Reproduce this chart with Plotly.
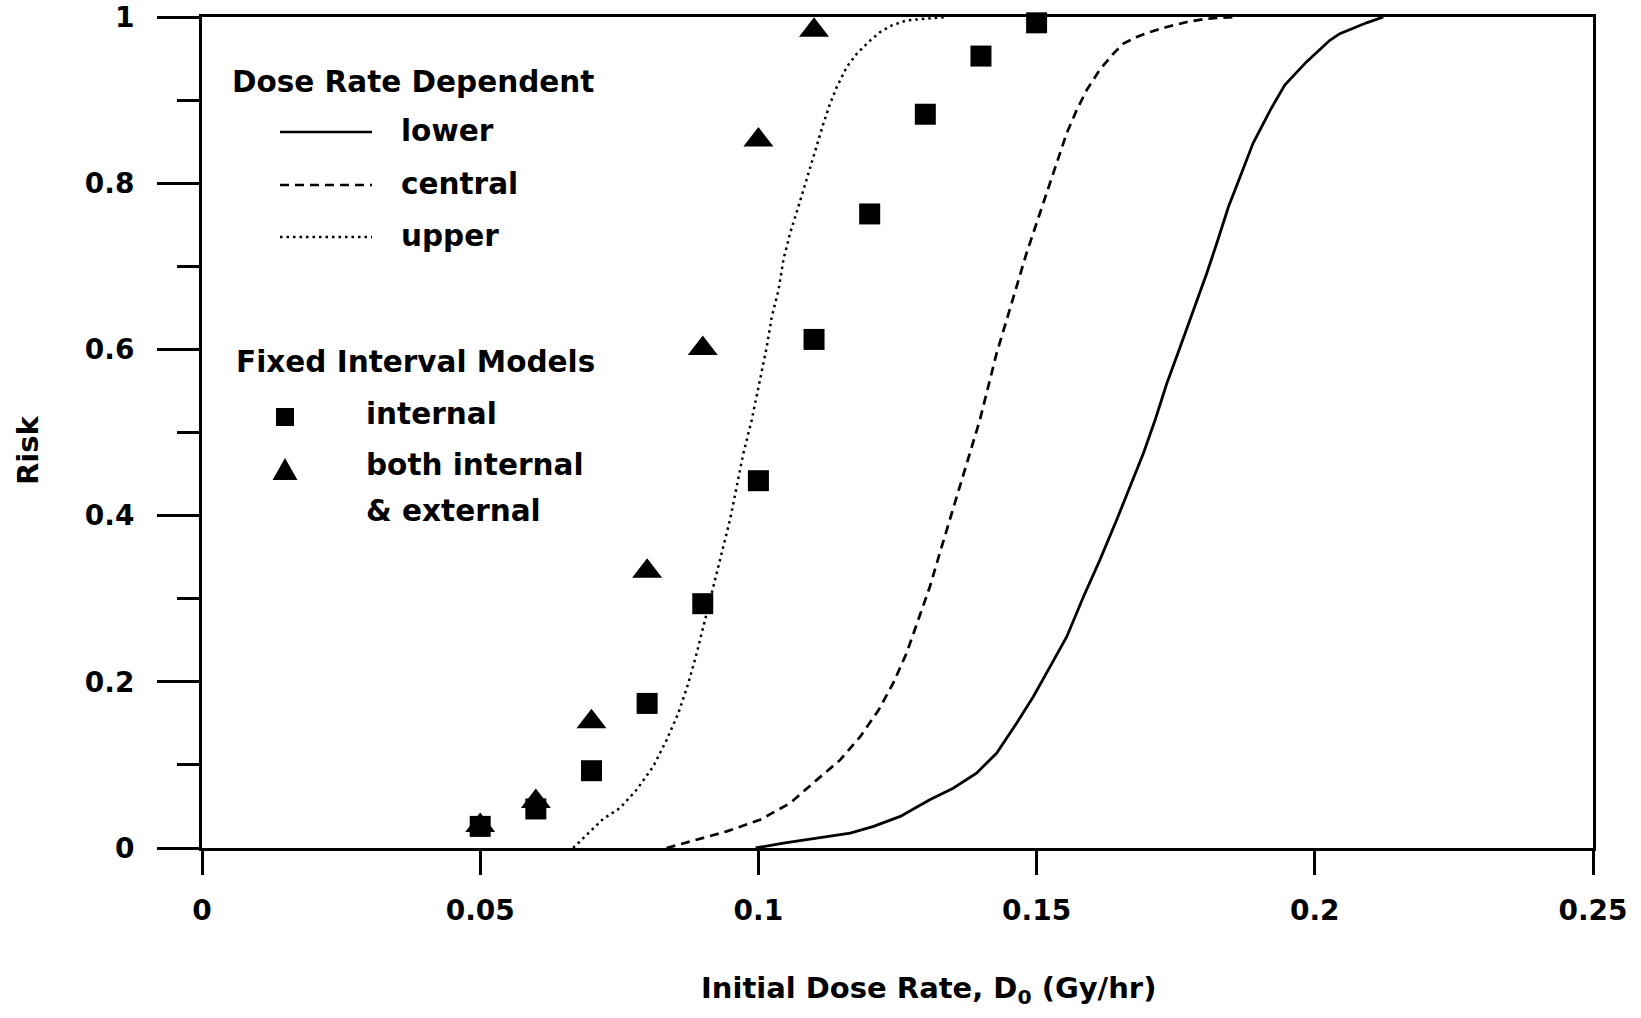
import plotly.graph_objects as go

# ---------------- data ----------------
upper_x = [0.0667, 0.0721, 0.0751, 0.0781, 0.0811, 0.0835, 0.0856, 0.0874, 0.0889, 0.0904,
           0.0919, 0.0934, 0.0949, 0.0961, 0.0973, 0.0988, 0.0997, 0.1006, 0.1015, 0.1024,
           0.1036, 0.1045, 0.1057, 0.1072, 0.1081, 0.1093, 0.1105, 0.1117, 0.1129, 0.1141,
           0.1159, 0.1177, 0.1198, 0.1219, 0.1240, 0.1267, 0.1302, 0.1338]
upper_y = [0.0, 0.035, 0.048, 0.070, 0.098, 0.130, 0.162, 0.198, 0.234, 0.274,
           0.314, 0.355, 0.395, 0.435, 0.475, 0.515, 0.543, 0.571, 0.603, 0.639,
           0.671, 0.708, 0.740, 0.772, 0.792, 0.820, 0.844, 0.872, 0.896, 0.916,
           0.940, 0.956, 0.970, 0.982, 0.990, 0.996, 0.998, 1.0]

central_x = [0.0835, 0.0889, 0.0943, 0.1003, 0.1057, 0.1105, 0.1147, 0.1183, 0.1216, 0.1242,
             0.1266, 0.1287, 0.1308, 0.1326, 0.1344, 0.1362, 0.1380, 0.1398, 0.1413, 0.1428,
             0.1446, 0.1464, 0.1482, 0.1500, 0.1518, 0.1536, 0.1554, 0.1572, 0.1590, 0.1614,
             0.1638, 0.1656, 0.1680, 0.1704, 0.1734, 0.1770, 0.1806, 0.1854]
central_y = [0.0, 0.010, 0.020, 0.034, 0.054, 0.082, 0.106, 0.134, 0.166, 0.198,
             0.234, 0.274, 0.314, 0.355, 0.395, 0.435, 0.475, 0.515, 0.555, 0.595,
             0.635, 0.675, 0.716, 0.752, 0.788, 0.824, 0.860, 0.888, 0.912, 0.937,
             0.956, 0.968, 0.976, 0.982, 0.988, 0.994, 0.998, 1.0]

lower_x = [0.0995, 0.1045, 0.1105, 0.1165, 0.1207, 0.1255, 0.1308, 0.1350, 0.1392, 0.1428,
           0.1464, 0.1494, 0.1524, 0.1554, 0.1584, 0.1614, 0.1644, 0.1668, 0.1692, 0.1713,
           0.1734, 0.1758, 0.1782, 0.1806, 0.1824, 0.1845, 0.1866, 0.1889, 0.1920, 0.1946,
           0.1985, 0.2027, 0.2045, 0.2093, 0.2123]
lower_y = [0.0, 0.006, 0.012, 0.018, 0.026, 0.038, 0.058, 0.072, 0.090, 0.114,
           0.150, 0.182, 0.218, 0.254, 0.302, 0.347, 0.395, 0.435, 0.475, 0.515,
           0.559, 0.603, 0.647, 0.692, 0.728, 0.772, 0.808, 0.848, 0.888, 0.918,
           0.946, 0.972, 0.980, 0.993, 1.0]

internal_x = [0.05, 0.06, 0.07, 0.08, 0.09, 0.10, 0.11, 0.12, 0.13, 0.14, 0.15]
internal_y = [0.026, 0.047, 0.093, 0.174, 0.294, 0.442, 0.612, 0.763, 0.883, 0.953, 0.993]

both_x = [0.05, 0.06, 0.07, 0.08, 0.09, 0.10, 0.11]
both_y = [0.027, 0.056, 0.152, 0.333, 0.601, 0.852, 0.984]

x_tickvals = [0, 0.05, 0.1, 0.15, 0.2, 0.25]
x_ticktext = ["0", "0.05", "0.1", "0.15", "0.2", "0.25"]
y_tickvals = [0, 0.2, 0.4, 0.6, 0.8, 1.0]
y_ticktext = ["0", "0.2", "0.4", "0.6", "0.8", "1"]
y_minor_vals = [0.1, 0.3, 0.5, 0.7, 0.9]

legend_heads = ["Dose Rate Dependent", "Fixed Interval Models"]
line_labels = ["lower", "central", "upper"]
marker_labels = ["internal", "both internal", "& external"]

# ---------------- layout geometry ----------------
W, H = 1641, 1018
L, R, T, B = 202, 1593, 17, 848
FONT = "DejaVu Sans, Verdana, sans-serif"
INK = "#000000"


def px(xp):
    return (xp - L) / (R - L)


def py(yp):
    return (B - yp) / (B - T)


fig = go.Figure()

fig.add_trace(go.Scatter(x=upper_x, y=upper_y, mode="lines", name="upper",
                         line=dict(color=INK, width=2.5, dash="2.5px,4px"),
                         showlegend=False))
fig.add_trace(go.Scatter(x=central_x, y=central_y, mode="lines", name="central",
                         line=dict(color=INK, width=2.7, dash="9px,6px"),
                         showlegend=False))
fig.add_trace(go.Scatter(x=lower_x, y=lower_y, mode="lines", name="lower",
                         line=dict(color=INK, width=2.8), showlegend=False))
fig.add_trace(go.Scatter(x=both_x, y=both_y, mode="markers", name="both internal & external",
                         marker=dict(symbol="triangle-up", size=26, color=INK),
                         cliponaxis=False, showlegend=False))
fig.add_trace(go.Scatter(x=internal_x, y=internal_y, mode="markers", name="internal",
                         marker=dict(symbol="square", size=21, color=INK),
                         cliponaxis=False, showlegend=False))

tickfont = dict(family=FONT, size=28, color=INK, weight="bold")

fig.update_xaxes(range=[0, 0.25], tickvals=x_tickvals, ticktext=x_ticktext,
                 ticks="outside", ticklen=24, tickwidth=2.5, tickcolor=INK,
                 showline=True, linewidth=3, linecolor=INK, mirror=True,
                 showgrid=False, zeroline=False, tickfont=tickfont,
                 ticklabelstandoff=11, automargin=False)
fig.update_yaxes(range=[0, 1], tickvals=y_tickvals, ticktext=y_ticktext,
                 ticks="outside", ticklen=42, tickwidth=2.5, tickcolor=INK,
                 minor=dict(tickvals=y_minor_vals, ticks="outside", ticklen=22,
                            tickwidth=2.5, tickcolor=INK),
                 showline=True, linewidth=3, linecolor=INK, mirror=True,
                 showgrid=False, zeroline=False, tickfont=tickfont,
                 ticklabelstandoff=17, automargin=False)

annotations = []
shapes = []


def text(t, xp, yp, size=29.5, anchor="left", angle=0):
    annotations.append(dict(text=t, x=px(xp), y=py(yp), xref="paper", yref="paper",
                            xanchor=anchor, yanchor="middle", showarrow=False,
                            textangle=angle,
                            font=dict(family=FONT, size=size, color=INK, weight="bold")))


# axis titles
text("Risk", 28, 450, size=29, anchor="center", angle=-90)
text("Initial Dose Rate, D<sub>0</sub> (Gy/hr)", 928, 990, size=29, anchor="center")

# legend: dose rate dependent
text(legend_heads[0], 230, 82)
line_rows = [132, 185, 237]
line_dashes = ["solid", "9px,6px", "2.5px,4px"]
for lab, yy, d in zip(line_labels, line_rows, line_dashes):
    shapes.append(dict(type="line", xref="paper", yref="paper",
                       x0=px(280), x1=px(372), y0=py(yy), y1=py(yy),
                       line=dict(color=INK, width=2.5, dash=d)))
    text(lab, 399, yy - 1)

# legend: fixed interval models
text(legend_heads[1], 234, 362)
shapes.append(dict(type="rect", xref="paper", yref="paper",
                   x0=px(276), x1=px(294), y0=py(426), y1=py(408),
                   fillcolor=INK, line=dict(width=0)))
tri = "M {} {} L {} {} L {} {} Z".format(px(272.5), py(480), px(297.5), py(480),
                                          px(285), py(458))
shapes.append(dict(type="path", xref="paper", yref="paper", path=tri,
                   fillcolor=INK, line=dict(width=0)))
text(marker_labels[0], 364, 414)
text(marker_labels[1], 364, 465)
text(marker_labels[2], 364, 511)

fig.update_layout(width=W, height=H,
                  margin=dict(l=L, r=W - R, t=T, b=H - B, pad=0),
                  paper_bgcolor="white", plot_bgcolor="white",
                  showlegend=False, annotations=annotations, shapes=shapes)

fig.write_html("out.html")
